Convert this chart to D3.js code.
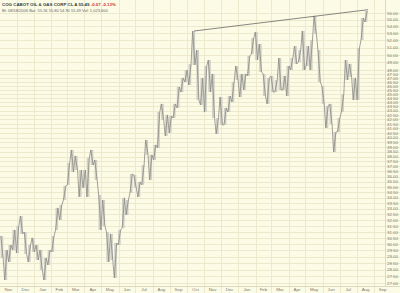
<!DOCTYPE html>
<html lang="en">
<head>
<meta charset="UTF-8">
<title>COG weekly bars</title>
<script src="https://d3js.org/d3.v7.min.js"></script>
<style>
    body { margin: 0; padding: 0; background: #fcfbe6; }
    svg { display: block; font-family: "Liberation Sans", Arial, sans-serif; }
</style>
</head>
<body>
<svg id="chart" width="400" height="293"></svg>
<script>
// one bar per week, first week starts Monday 1 Nov 2004
var firstWeek = "2004-11-01";
var highs = [30.66, 29.52, 29.92, 31.16, 31.50, 32.36, 30.99, 29.92, 30.50, 29.92,
             29.52, 28.89, 29.52, 30.66, 33.07, 33.34, 35.10, 37.35, 38.68, 38.06,
             36.64, 36.64, 37.85, 38.68, 37.65, 34.25, 33.79, 30.99, 30.83, 30.08,
             31.16, 33.98, 33.79, 36.25, 36.15, 35.48, 37.14, 39.74, 38.17, 39.21,
             42.86, 43.80, 42.52, 42.40, 43.80, 45.86, 46.99, 48.01, 48.80, 53.34,
             50.67, 46.99, 48.53, 49.32, 47.50, 42.17, 44.63, 43.33, 44.75, 46.48,
             48.53, 47.50, 47.50, 49.86, 52.35, 53.20, 51.50, 47.50, 46.99, 47.24,
             46.73, 49.59, 47.24, 48.53, 49.59, 51.22, 50.67, 53.34, 51.22, 52.06,
             55.55, 50.67, 45.98, 43.56, 43.80, 40.61, 42.17, 44.99, 49.32, 48.80,
             46.99, 50.95, 55.25, 56.31];
var lows  = [28.89, 27.22, 28.58, 29.52, 29.28, 30.83, 29.20, 28.58, 29.36, 28.73,
             27.97, 27.22, 28.35, 29.36, 31.16, 32.01, 33.79, 35.20, 36.44, 36.64,
             34.07, 34.91, 34.07, 37.14, 35.67, 31.16, 31.50, 28.58, 28.73, 27.37,
             29.92, 31.33, 32.45, 34.44, 34.91, 34.07, 35.20, 38.17, 35.67, 37.65,
             38.89, 41.94, 40.17, 40.50, 42.17, 43.33, 45.23, 46.48, 46.11, 48.67,
             44.27, 43.68, 42.86, 45.23, 42.17, 40.39, 41.39, 41.39, 42.86, 44.03,
             46.73, 44.63, 45.48, 47.24, 50.13, 49.32, 47.75, 44.75, 43.80, 45.23,
             45.23, 45.48, 45.48, 44.75, 48.01, 48.80, 49.05, 48.01, 48.53, 48.01,
             52.92, 46.48, 43.80, 41.05, 41.49, 38.47, 40.61, 42.86, 46.73, 47.11,
             44.27, 44.27, 52.06, 54.66];

// trend line across the Oct 2005 / May 2006 highs
var trendDates = ["2005-10-14", "2006-08-21"];
var trendPrices = [53.34, 56.50];

var priceLabels = [56, 55, 54, 53, 52, 51, 50, 49, 48, 47.5, 47, 46.5, 46, 45.5, 45,
                   44.5, 44, 43.5, 43, 42.5, 42, 41.5, 41, 40.5, 40, 39.5, 39, 38.5,
                   38, 37.5, 37, 36.5, 36, 35.5, 35, 34.5, 34, 33.5, 33, 32.5, 32,
                   31.5, 31, 30.5, 30, 29.5, 29, 28.5, 28, 27.5, 27];
var monthLabels = ["Nov", "Dec", "Jan", "Feb", "Mar", "Apr", "May", "Jun", "Jul", "Aug", "Sep", "Oct",
                   "Nov", "Dec", "Jan", "Feb", "Mar", "Apr", "May", "Jun", "Jul", "Aug", "Sep"];

var titleName = "COG CABOT OIL & GAS CORP CL A";
var titleLast = "55.49";
var titleChange = "-0.07  -0.13%";
var subTitle = "Bt: 08/18/2006 Bar: 55.56 55.80 54.90 55.49 Vol: 1,023,600";

var svg = d3.select("#chart"),
    width = 400, height = 293,
    plotRight = 385, plotBottom = 286;

var parse = d3.timeParse("%Y-%m-%d");
var start = parse(firstWeek);
var x = d3.scaleTime()
    .domain([parse("2004-11-01"), parse("2006-10-01")])
    .range([0, 391]);
var y = d3.scaleLog()
    .domain([27, 56])
    .range([283, 13]);

svg.append("rect").attr("width", width).attr("height", height).attr("fill", "#fcfbe6");

// horizontal grid + price labels
svg.append("g").selectAll("line")
    .data(priceLabels).enter().append("line")
    .attr("x1", 0).attr("x2", width)
    .attr("y1", d => Math.round(y(d)) + 0.5).attr("y2", d => Math.round(y(d)) + 0.5)
    .attr("stroke", "#ece9cd").attr("stroke-width", 1);

svg.append("g").selectAll("text")
    .data(priceLabels).enter().append("text")
    .attr("x", 398).attr("y", d => y(d) + 1.7)
    .attr("text-anchor", "end")
    .attr("font-size", "4.4px")
    .attr("fill", "#7a7a72")
    .text(d => d.toFixed(2));

// month separators
var months = d3.timeMonth.range(parse("2004-11-01"), parse("2006-10-01"));
svg.append("g").selectAll("line")
    .data(months.slice(1)).enter().append("line")
    .attr("x1", d => Math.round(x(d)) + 0.5).attr("x2", d => Math.round(x(d)) + 0.5)
    .attr("y1", 0).attr("y2", height)
    .attr("stroke", "#ece9cd");

svg.append("g").selectAll("text")
    .data(months).enter().append("text")
    .attr("x", (d, i) => (x(d) + x(d3.timeMonth.offset(d, 1))) / 2)
    .attr("y", 291)
    .attr("text-anchor", "middle")
    .attr("font-size", "4.4px")
    .attr("fill", "#7a7a72")
    .text((d, i) => monthLabels[i]);

// frame
svg.append("line").attr("x1", plotRight + 0.5).attr("x2", plotRight + 0.5)
    .attr("y1", 0).attr("y2", plotBottom).attr("stroke", "#ddd9bc");
svg.append("line").attr("x1", 0).attr("x2", width)
    .attr("y1", plotBottom + 0.5).attr("y2", plotBottom + 0.5).attr("stroke", "#ddd9bc");

// price bars
var bars = highs.map((h, i) => ({
    date: d3.timeHour.offset(start, i * 168 + 84),
    high: h,
    low: lows[i]
}));

svg.append("g").selectAll("rect")
    .data(bars).enter().append("rect")
    .attr("x", d => x(d.date) - 1.3)
    .attr("width", 2.6)
    .attr("y", d => y(d.high))
    .attr("height", d => y(d.low) - y(d.high))
    .attr("fill", "#cfcfc6");

// jagged stroke running through each week's range, so the bars read as one band
var pts = [];
bars.forEach(function(d, i) {
    var next = bars[i + 1];
    var up = next ? (next.high + next.low) > (d.high + d.low) : true;
    var a = [x(d.date) - 1.2, y(up ? d.low : d.high)],
        b = [x(d.date) + 1.2, y(up ? d.high : d.low)];
    pts.push(a, b);
});
svg.append("path")
    .attr("d", d3.line()(pts))
    .attr("fill", "none")
    .attr("stroke", "#8a8a84")
    .attr("stroke-width", 0.8)
    .attr("stroke-linejoin", "bevel");

// trend line
var trend = trendDates.map((t, i) => [x(parse(t)), y(trendPrices[i])]);
svg.append("path")
    .attr("d", d3.line()(trend))
    .attr("fill", "none")
    .attr("stroke", "#6a6a66")
    .attr("stroke-width", 0.8);

// title
var t1 = svg.append("text").attr("x", 2).attr("y", 6)
    .attr("font-size", "4.4px").attr("font-weight", "bold").attr("fill", "#3a3a3a");
t1.append("tspan").text(titleName + "  " + titleLast + "  ");
t1.append("tspan").attr("fill", "#d03030").text(titleChange);

svg.append("text").attr("x", 2).attr("y", 11.5)
    .attr("font-size", "4px").attr("fill", "#666")
    .text(subTitle);
</script>
</body>
</html>
